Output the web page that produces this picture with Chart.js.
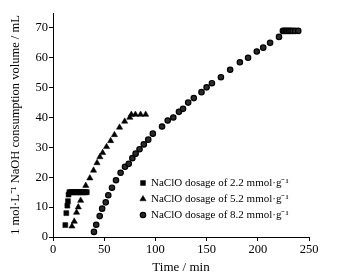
<!DOCTYPE html>
<html>
<head>
<meta charset="utf-8">
<script src="https://cdn.jsdelivr.net/npm/chart.js@4"></script>
<style>
  body { margin: 0; background: #fff; }
</style>
</head>
<body>
<canvas id="naoh" width="338" height="277"></canvas>
<script>
// NaOH-Verbrauch über die Zeit für drei NaClO-Dosierungen

const seriesNames = [
  'NaClO dosage of 2.2 mmol·g⁻¹',
  'NaClO dosage of 5.2 mmol·g⁻¹',
  'NaClO dosage of 8.2 mmol·g⁻¹'
];

const sqX = [12, 13, 14, 14.6, 15.2, 16, 17, 18, 19, 20, 21, 22, 23, 24, 25, 26, 27, 28, 29, 30, 31, 32, 33];
const sqY = [4, 8, 10.5, 12, 14.2, 15, 15, 15, 15, 15, 15, 15, 15, 15, 15, 15, 15, 15, 15, 15, 15, 15, 15];

const triX = [18.5, 20.8, 23, 24.7, 27, 32, 36, 39.6, 43, 45.8, 48.5, 52.3, 56.3, 60, 65, 70, 75, 76.5, 80.5, 85.5, 90.5];
const triY = [3.6, 5.2, 8.2, 10, 12.2, 17.2, 19.7, 22.3, 24.8, 26.8, 28.2, 30.2, 32.2, 34.2, 36.7, 38.7, 40, 41, 41, 41, 41];

const cirX = [40, 42.2, 45.6, 48, 51.5, 54, 57.6, 61.5, 66, 70.3, 74, 77.5, 80.7, 84.5, 88.7, 93, 97.5,
  106.5, 112, 117.5, 123, 127, 132, 137.5, 145, 150, 155.2, 164, 173, 182.5, 190.5, 199, 205.3, 212,
  220.7, 224.5, 226, 227.5, 229, 230.5, 232, 234, 236.5, 239.5];
const cirY = [1.7, 4.1, 7, 9.5, 11.6, 14, 16.5, 19, 21.5, 23.5, 24.5, 26.4, 27.9, 29.4, 31, 32.6, 34.6,
  37, 39, 40, 41.9, 42.9, 45, 46.5, 48.5, 50.1, 51.5, 53.5, 56, 58.5, 60, 62.1, 63.4, 65,
  67, 69, 69, 69, 69, 69, 69, 69, 69, 69];

const xTicks = [0, 50, 100, 150, 200, 250];
const yTicks = [0, 10, 20, 30, 40, 50, 60, 70];

const serif = "'Liberation Serif', 'Times New Roman', serif";

function pts(xs, ys) {
  return xs.map((x, i) => ({ x: x, y: ys[i] }));
}

const marks = [
  { pointStyle: 'rect', radius: 3.5, fill: '#000', border: '#000', bw: 0.5 },
  { pointStyle: 'triangle', radius: 3.6, fill: '#000', border: '#000', bw: 0.5 },
  { pointStyle: 'circle', radius: 2.7, fill: '#2a2a2a', border: '#000', bw: 1.2 }
];

// Legende innerhalb der Zeichenfläche
const innerLegend = {
  id: 'innerLegend',
  afterDatasetsDraw(chart) {
    const ctx = chart.ctx;
    ctx.save();
    ctx.font = '11px ' + serif;
    ctx.textBaseline = 'middle';
    seriesNames.forEach((name, i) => {
      const y = 183 + i * 16;
      const m = marks[i];
      ctx.fillStyle = m.fill;
      ctx.strokeStyle = m.border;
      ctx.lineWidth = m.bw;
      Chart.helpers.drawPoint(ctx, { pointStyle: m.pointStyle, radius: m.radius, rotation: 0, borderWidth: m.bw }, 143, y);
      ctx.fillStyle = '#000';
      ctx.fillText(name, 151, y + 0.5);
    });
    ctx.restore();
  }
};

const el = document.getElementById('naoh');

new Chart(el, {
  type: 'scatter',
  data: {
    datasets: [
      { label: seriesNames[0], data: pts(sqX, sqY) },
      { label: seriesNames[1], data: pts(triX, triY) },
      { label: seriesNames[2], data: pts(cirX, cirY) }
    ].map((d, i) => Object.assign(d, {
      pointStyle: marks[i].pointStyle,
      pointRadius: marks[i].radius,
      pointHoverRadius: marks[i].radius,
      backgroundColor: marks[i].fill,
      borderColor: marks[i].border,
      borderWidth: marks[i].bw
    }))
  },
  options: {
    responsive: false,
    animation: false,
    devicePixelRatio: 1,
    layout: { padding: { top: 13, right: 29, left: 0, bottom: 0 } },
    plugins: {
      legend: { display: false },
      tooltip: { enabled: false }
    },
    scales: {
      x: {
        type: 'linear',
        min: 0,
        max: 250,
        afterBuildTicks: (s) => { s.ticks = xTicks.map(v => ({ value: v })); },
        afterFit: (s) => { s.height = 40; },
        grid: { drawOnChartArea: false, drawTicks: true, tickLength: 4, color: '#000' },
        border: { display: true, color: '#000', width: 1 },
        ticks: { color: '#000', padding: 1, maxRotation: 0, font: { family: serif, size: 12.5 } },
        title: {
          display: true,
          text: 'Time / min',
          color: '#000',
          padding: { top: 0, bottom: 2 },
          font: { family: serif, size: 13 }
        }
      },
      y: {
        type: 'linear',
        min: 0,
        max: 75,
        afterBuildTicks: (s) => { s.ticks = yTicks.map(v => ({ value: v })); },
        afterFit: (s) => { s.width = 53; },
        grid: { drawOnChartArea: false, drawTicks: true, tickLength: 4, color: '#000' },
        border: { display: true, color: '#000', width: 1 },
        ticks: { color: '#000', padding: 1, font: { family: serif, size: 12.5 } },
        title: {
          display: true,
          text: '1 mol·L⁻¹ NaOH consumption volume / mL',
          color: '#000',
          padding: { top: 8, bottom: 0 },
          font: { family: serif, size: 12.5 }
        }
      }
    }
  },
  plugins: [innerLegend]
});
</script>
</body>
</html>
